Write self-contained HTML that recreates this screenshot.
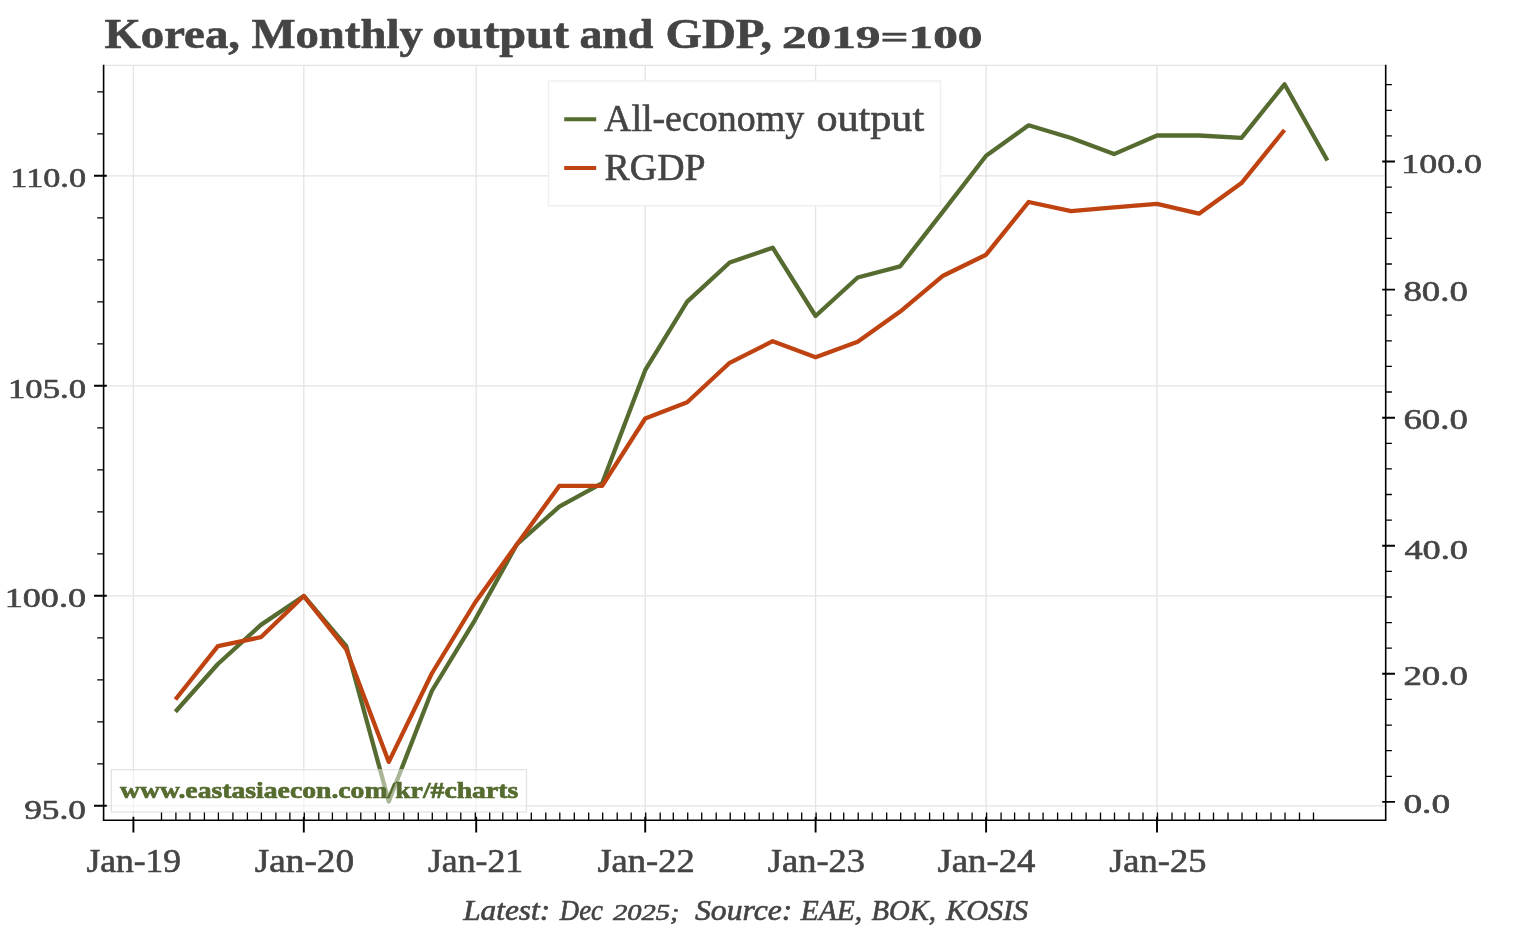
<!DOCTYPE html>
<html><head><meta charset="utf-8"><title>Korea, Monthly output and GDP, 2019=100</title>
<style>html,body{margin:0;padding:0;background:#fff}svg{display:block}text{font-family:"Liberation Serif","DejaVu Serif",serif;fill:#444444;stroke:#444444;stroke-linejoin:round}</style>
</head><body>
<svg width="1534" height="930" viewBox="0 0 1534 930">
<rect width="1534" height="930" fill="#fff"/>
<path d="M133.4 65.3V820.2M303.8 65.3V820.2M476.2 65.3V820.2M645.2 65.3V820.2M815.6 65.3V820.2M986.1 65.3V820.2M1157.0 65.3V820.2M103.6 805.8H1385.7M103.6 595.8H1385.7M103.6 385.8H1385.7M103.6 175.8H1385.7M103.6 65.3H1385.7" stroke="#e4e4e4" stroke-width="1.3" fill="none"/>
<polyline points="175.4,711.8 217.9,664.0 260.9,624.9 303.8,596.0 346.3,646.2 388.8,801.5 431.8,691.0 474.8,620.3 516.8,544.5 559.3,506.6 602.2,483.2 645.2,370.2 687.2,301.6 729.7,262.5 772.7,247.7 815.6,316.0 857.7,277.5 900.2,266.3 943.1,211.4 986.1,155.8 1028.6,125.3 1071.1,138.0 1114.0,154.1 1157.0,135.5 1199.0,135.5 1241.5,137.8 1284.5,84.3 1327.4,160.5" fill="none" stroke="#556b2f" stroke-width="4.3" stroke-linejoin="round" stroke-linecap="butt"/>
<polyline points="175.4,699.5 217.9,646.2 260.9,637.2 303.8,596.0 346.3,649.4 388.8,761.9 431.8,673.5 474.8,603.0 516.8,544.5 559.3,485.9 602.2,485.8 645.2,418.5 687.2,402.3 729.7,362.8 772.7,341.2 815.6,357.3 857.7,341.7 900.2,311.6 943.1,275.7 986.1,254.7 1028.6,202.0 1071.1,211.2 1114.0,207.3 1157.0,203.8 1199.0,213.7 1241.5,183.1 1284.5,130.0" fill="none" stroke="#bf4310" stroke-width="4.3" stroke-linejoin="round" stroke-linecap="butt"/>
<rect x="111.3" y="769.7" width="415.2" height="42.3" fill="#fff" fill-opacity="0.5" stroke="#cfcfcf" stroke-opacity="0.6" stroke-width="1.2"/>
<rect x="548.5" y="81" width="391.9" height="124.8" fill="#fff" stroke="#efefef" stroke-width="1.4"/>
<path d="M564.2 119.2H596.2" stroke="#556b2f" stroke-width="4"/>
<path d="M564.2 167.9H596.2" stroke="#bf4310" stroke-width="4"/>
<path d="M103.6 64.8V820.2H1385.7V64.8" stroke="#000" stroke-width="1.6" fill="none" stroke-linejoin="miter"/>
<path d="M94 805.8H106.8M94 595.8H106.8M94 385.8H106.8M94 175.8H106.8M1382.2 801.9H1395M1382.2 673.8H1395M1382.2 545.7H1395M1382.2 417.7H1395M1382.2 289.6H1395M1382.2 161.5H1395M133.4 816.7V832.5M303.8 816.7V832.5M476.2 816.7V832.5M645.2 816.7V832.5M815.6 816.7V832.5M986.1 816.7V832.5M1157.0 816.7V832.5" stroke="#000" stroke-width="1.9" fill="none"/>
<path d="M97.2 763.8H103.6M97.2 721.8H103.6M97.2 679.8H103.6M97.2 637.8H103.6M97.2 553.8H103.6M97.2 511.8H103.6M97.2 469.8H103.6M97.2 427.8H103.6M97.2 343.8H103.6M97.2 301.8H103.6M97.2 259.8H103.6M97.2 217.8H103.6M97.2 133.8H103.6M97.2 91.8H103.6M1385.7 776.3H1391.9M1385.7 750.7H1391.9M1385.7 725.1H1391.9M1385.7 699.4H1391.9M1385.7 648.2H1391.9M1385.7 622.6H1391.9M1385.7 597.0H1391.9M1385.7 571.4H1391.9M1385.7 520.1H1391.9M1385.7 494.5H1391.9M1385.7 468.9H1391.9M1385.7 443.3H1391.9M1385.7 392.0H1391.9M1385.7 366.4H1391.9M1385.7 340.8H1391.9M1385.7 315.2H1391.9M1385.7 264.0H1391.9M1385.7 238.3H1391.9M1385.7 212.7H1391.9M1385.7 187.1H1391.9M1385.7 135.9H1391.9M1385.7 110.3H1391.9M1385.7 84.7H1391.9M161.5 812.6V820.2M175.9 812.6V820.2M189.9 812.6V820.2M204.4 812.6V820.2M218.4 812.6V820.2M232.9 812.6V820.2M247.4 812.6V820.2M261.4 812.6V820.2M275.9 812.6V820.2M289.9 812.6V820.2M304.3 812.6V820.2M318.8 812.6V820.2M332.4 812.6V820.2M346.8 812.6V820.2M360.8 812.6V820.2M375.3 812.6V820.2M389.3 812.6V820.2M403.8 812.6V820.2M418.3 812.6V820.2M432.3 812.6V820.2M446.8 812.6V820.2M460.8 812.6V820.2M475.3 812.6V820.2M489.7 812.6V820.2M502.8 812.6V820.2M517.3 812.6V820.2M531.3 812.6V820.2M545.8 812.6V820.2M559.8 812.6V820.2M574.3 812.6V820.2M588.7 812.6V820.2M602.7 812.6V820.2M617.2 812.6V820.2M631.2 812.6V820.2M645.7 812.6V820.2M660.2 812.6V820.2M673.3 812.6V820.2M687.7 812.6V820.2M701.7 812.6V820.2M716.2 812.6V820.2M730.2 812.6V820.2M744.7 812.6V820.2M759.2 812.6V820.2M773.2 812.6V820.2M787.7 812.6V820.2M801.7 812.6V820.2M816.1 812.6V820.2M830.6 812.6V820.2M843.7 812.6V820.2M858.2 812.6V820.2M872.2 812.6V820.2M886.7 812.6V820.2M900.7 812.6V820.2M915.1 812.6V820.2M929.6 812.6V820.2M943.6 812.6V820.2M958.1 812.6V820.2M972.1 812.6V820.2M986.6 812.6V820.2M1001.1 812.6V820.2M1014.6 812.6V820.2M1029.1 812.6V820.2M1043.1 812.6V820.2M1057.6 812.6V820.2M1071.6 812.6V820.2M1086.1 812.6V820.2M1100.5 812.6V820.2M1114.5 812.6V820.2M1129.0 812.6V820.2M1143.0 812.6V820.2M1157.5 812.6V820.2M1172.0 812.6V820.2M1185.0 812.6V820.2M1199.5 812.6V820.2M1213.5 812.6V820.2M1228.0 812.6V820.2M1242.0 812.6V820.2M1256.5 812.6V820.2M1271.0 812.6V820.2M1285.0 812.6V820.2M1299.5 812.6V820.2M1313.5 812.6V820.2" stroke="#000" stroke-width="1.3" fill="none"/>
<text y="47.8" font-size="41.2" font-weight="bold" stroke-width="0.6"><tspan id="t0_0" x="104.4" textLength="135.6" lengthAdjust="spacingAndGlyphs">Korea,</tspan> <tspan id="t0_1" x="251.4" textLength="171.4" lengthAdjust="spacingAndGlyphs">Monthly</tspan> <tspan id="t0_2" x="432.2" textLength="136.8" lengthAdjust="spacingAndGlyphs">output</tspan> <tspan id="t0_3" x="579.4" textLength="74.0" lengthAdjust="spacingAndGlyphs">and</tspan> <tspan id="t0_4" x="665.4" textLength="106.5" lengthAdjust="spacingAndGlyphs">GDP,</tspan> <tspan id="t0_5" font-size="31" x="782.0" textLength="200.4" lengthAdjust="spacingAndGlyphs">2019=100</tspan></text>
<text y="131.3" font-size="38" stroke-width="0.6"><tspan id="t1_0" x="604.0" textLength="200.2" lengthAdjust="spacingAndGlyphs">All-economy</tspan> <tspan id="t1_1" x="816.4" textLength="107.8" lengthAdjust="spacingAndGlyphs">output</tspan></text>
<text y="180.3" font-size="38" stroke-width="0.6"><tspan id="t2_0" x="604.6" textLength="100.9" lengthAdjust="spacingAndGlyphs">RGDP</tspan></text>
<text y="187.0" font-size="26.5" stroke-width="0.6"><tspan id="t3_0" x="10.3" textLength="75.7" lengthAdjust="spacingAndGlyphs">110.0</tspan></text>
<text y="397.6" font-size="27" stroke-width="0.6"><tspan id="t4_0" x="8.0" textLength="78.0" lengthAdjust="spacingAndGlyphs">105.0</tspan></text>
<text y="607.0" font-size="26.5" stroke-width="0.6"><tspan id="t5_0" x="4.7" textLength="81.3" lengthAdjust="spacingAndGlyphs">100.0</tspan></text>
<text y="819.3" font-size="27" stroke-width="0.6"><tspan id="t6_0" x="24.2" textLength="61.8" lengthAdjust="spacingAndGlyphs">95.0</tspan></text>
<text y="172.9" font-size="26.5" stroke-width="0.6"><tspan id="t7_0" x="1401.3" textLength="80.7" lengthAdjust="spacingAndGlyphs">100.0</tspan></text>
<text y="301.2" font-size="29.5" stroke-width="0.6"><tspan id="t8_0" x="1403.4" textLength="64.6" lengthAdjust="spacingAndGlyphs">80.0</tspan></text>
<text y="429.3" font-size="29.5" stroke-width="0.6"><tspan id="t9_0" x="1403.4" textLength="64.6" lengthAdjust="spacingAndGlyphs">60.0</tspan></text>
<text y="558.5" font-size="27" stroke-width="0.6"><tspan id="t10_0" x="1404.4" textLength="63.6" lengthAdjust="spacingAndGlyphs">40.0</tspan></text>
<text y="685.2" font-size="26.5" stroke-width="0.6"><tspan id="t11_0" x="1403.4" textLength="64.6" lengthAdjust="spacingAndGlyphs">20.0</tspan></text>
<text y="812.9" font-size="26.5" stroke-width="0.6"><tspan id="t12_0" x="1403.4" textLength="46.7" lengthAdjust="spacingAndGlyphs">0.0</tspan></text>
<text y="871.7" font-size="32.8" stroke-width="0.6"><tspan id="t13_0" x="86.4" textLength="94.6" lengthAdjust="spacingAndGlyphs">Jan-19</tspan></text>
<text y="871.7" font-size="32.8" stroke-width="0.6"><tspan id="t14_0" x="254.8" textLength="99.2" lengthAdjust="spacingAndGlyphs">Jan-20</tspan></text>
<text y="871.7" font-size="32.8" stroke-width="0.6"><tspan id="t15_0" x="427.9" textLength="95.3" lengthAdjust="spacingAndGlyphs">Jan-21</tspan></text>
<text y="871.7" font-size="32.8" stroke-width="0.6"><tspan id="t16_0" x="597.4" textLength="97.3" lengthAdjust="spacingAndGlyphs">Jan-22</tspan></text>
<text y="871.7" font-size="32.8" stroke-width="0.6"><tspan id="t17_0" x="767.8" textLength="97.2" lengthAdjust="spacingAndGlyphs">Jan-23</tspan></text>
<text y="871.7" font-size="32.8" stroke-width="0.6"><tspan id="t18_0" x="937.4" textLength="98.0" lengthAdjust="spacingAndGlyphs">Jan-24</tspan></text>
<text y="871.7" font-size="32.8" stroke-width="0.6"><tspan id="t19_0" x="1109.2" textLength="97.2" lengthAdjust="spacingAndGlyphs">Jan-25</tspan></text>
<text y="919.8" font-size="29.2" font-style="italic" stroke-width="0.6"><tspan id="t20_0" x="463.2" textLength="87.0" lengthAdjust="spacingAndGlyphs">Latest:</tspan> <tspan id="t20_1" x="559.8" textLength="43.2" lengthAdjust="spacingAndGlyphs">Dec</tspan> <tspan id="t20_2" font-size="23" x="613.0" textLength="66.6" lengthAdjust="spacingAndGlyphs">2025;</tspan> <tspan id="t20_3" x="695.0" textLength="97.4" lengthAdjust="spacingAndGlyphs">Source:</tspan> <tspan id="t20_4" x="800.8" textLength="61.4" lengthAdjust="spacingAndGlyphs">EAE,</tspan> <tspan id="t20_5" x="871.4" textLength="64.6" lengthAdjust="spacingAndGlyphs">BOK,</tspan> <tspan id="t20_6" x="946.0" textLength="82.2" lengthAdjust="spacingAndGlyphs">KOSIS</tspan></text>
<text y="797.9" font-size="24" font-weight="bold" style="fill:#556b2f;stroke:#556b2f" stroke-width="0.7"><tspan id="t21_0" x="120.0" textLength="398.2" lengthAdjust="spacingAndGlyphs">www.eastasiaecon.com/kr/#charts</tspan></text>
</svg>
</body></html>
